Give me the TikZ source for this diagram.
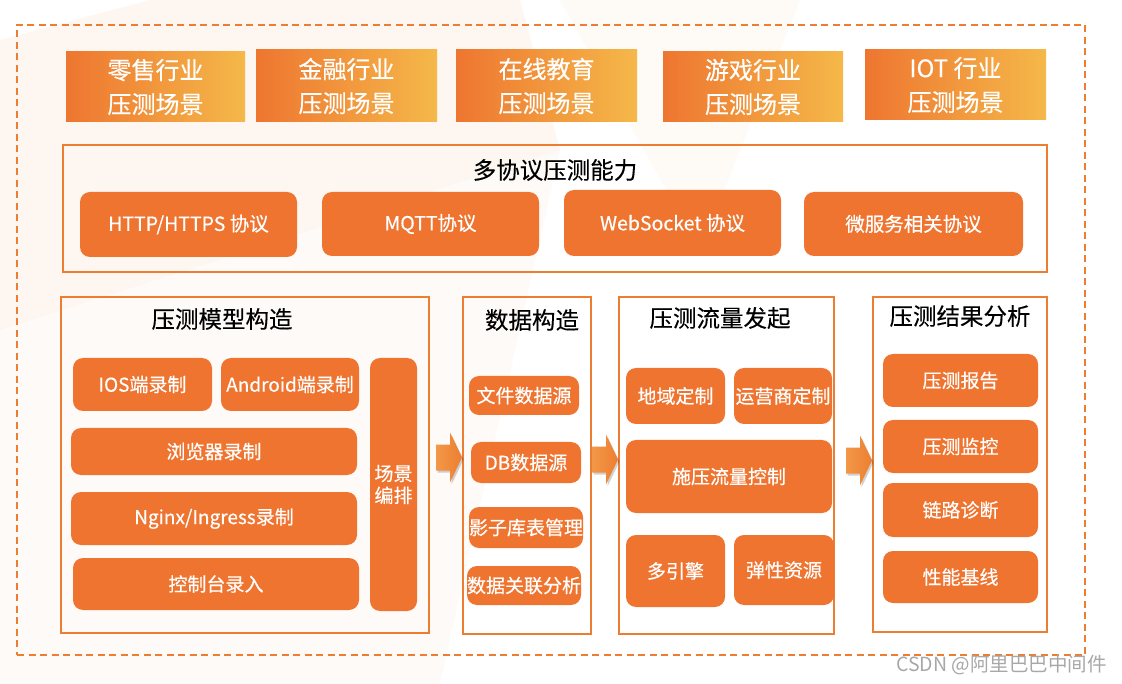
\documentclass[tikz,border=0pt]{standalone}
\usepackage{fontspec}
\setmainfont{Noto Sans CJK SC}
\newfontfamily\boxfont{Noto Sans CJK SC}[FakeBold=0.45]
\newfontfamily\ttlfont{Noto Sans CJK SC}[FakeBold=0.2]
\usetikzlibrary{calc}
\definecolor{orfill}{HTML}{EE7430}
\definecolor{orline}{HTML}{ED7D31}
\definecolor{gradL}{HTML}{EE7630}
\definecolor{gradR}{HTML}{F5B849}
\definecolor{arrL}{HTML}{F29848}
\definecolor{arrR}{HTML}{EE7E30}
\definecolor{peach}{HTML}{FDEFE4}
\definecolor{wmark}{HTML}{A8A8A8}
\newcommand\BX[7]{\node[#1, minimum width={#5-#3}, minimum height={#6-#4}] (#2) at ({(#3+#5)/2},{(#4+#6)/2}) {#7};}
\newcommand\BLOCKARROW[1]{%
  \fill[black, opacity=0.18, shift={(#1)}, xshift=1.5pt, yshift=-2pt] (0,0) -- (-12,-25) -- (-12,-13) -- (-26,-13) -- (-26,13) -- (-12,13) -- (-12,25) -- cycle;
  \shade[left color=arrL, right color=arrR, shift={(#1)}] (0,0) -- (-12,-25) -- (-12,-13) -- (-26,-13) -- (-26,13) -- (-12,13) -- (-12,25) -- cycle;}
\tikzset{
  obox/.style={fill=orfill, rounded corners=10pt, text=white, font=\boxfont\fontsize{19}{23}\selectfont, inner sep=0pt, outer sep=0pt, align=center},
  pbox/.style={obox, font=\boxfont\fontsize{19.5}{23}\selectfont},
  topbox/.style={left color=gradL, right color=gradR, text=white, font=\boxfont\fontsize{24}{34}\selectfont, align=center, inner sep=0pt, outer sep=0pt},
  panel/.style={draw=orline, line width=1.6pt, inner sep=0pt, outer sep=0pt},
  ttl/.style={text=black, font=\ttlfont\fontsize{23.5}{28}\selectfont, inner sep=0pt},
  outer/.style={draw=orline, line width=1.5pt, dash pattern=on 7pt off 4.5pt}
}
\begin{document}
\begin{tikzpicture}[x=1pt,y=-1pt]
\useasboundingbox (0,0) rectangle (1122,684);
\fill[white] (0,0) rectangle (1122,684);
% faint background shapes
\fill[peach, opacity=0.5] (0,40) -- (150,0) -- (520,0) -- (560,150) -- (0,330) -- cycle;
\fill[peach, opacity=0.3] (560,0) -- (800,0) -- (700,250) -- cycle;
\fill[peach, opacity=0.25] (0,330) -- (560,150) -- (440,684) -- (0,684) -- cycle;

% outer dashed frame
\node[outer, minimum width=1068, minimum height=630, inner sep=0pt] (frame) at (551,340) {};

% top row scenario boxes
\BX{topbox}{s1}{66}{52}{245}{122}{零售行业\\压测场景}
\BX{topbox}{s2}{256}{50}{437}{122}{金融行业\\压测场景}
\BX{topbox}{s3}{456}{50}{637}{122}{在线教育\\压测场景}
\BX{topbox}{s4}{663}{52}{843}{122}{游戏行业\\压测场景}
\BX{topbox}{s5}{865}{50}{1046}{120}{IOT 行业\\压测场景}

% protocol panel
\BX{panel}{proto}{63}{145}{1047}{272}{}
\node[ttl] (protottl) at (555,170) {多协议压测能力};
\BX{pbox}{p1}{80}{192}{297}{257}{HTTP/HTTPS 协议}
\BX{pbox}{p2}{322}{192}{539}{256}{MQTT协议}
\BX{pbox}{p3}{564}{190}{781}{256}{WebSocket 协议}
\BX{pbox}{p4}{804}{192}{1023}{256}{微服务相关协议}

% panel 1: model
\BX{panel}{model}{61}{297}{429}{633}{}
\node[ttl] (modelttl) at (222,319) {压测模型构造};
\BX{obox}{m1}{73}{358}{212}{411}{IOS端录制}
\BX{obox}{m2}{221}{358}{359}{411}{Android端录制}
\BX{obox}{m3}{71}{428}{357}{475}{浏览器录制}
\BX{obox}{m4}{71}{492}{357}{545}{Nginx/Ingress录制}
\BX{obox}{m5}{73}{558}{359}{610}{控制台录入}
\BX{obox, font=\boxfont\fontsize{19}{22}\selectfont}{m6}{370}{358}{417}{611}{场景\\编排}

% panel 2: data
\BX{panel}{data}{463}{297}{591}{634}{}
\node[ttl] (datattl) at (532,320) {数据构造};
\BX{obox}{d1}{469}{376}{579}{415}{文件数据源}
\BX{obox}{d2}{471}{442}{581}{483}{DB数据源}
\BX{obox}{d3}{471}{507}{581}{548}{影子库表管理}
\BX{obox}{d4}{469}{566}{579}{605}{数据关联分析}

% panel 3: traffic
\BX{panel}{flow}{619}{297}{834}{634}{}
\node[ttl] (flowttl) at (720,318) {压测流量发起};
\BX{obox}{f1}{626}{368}{725}{424}{地域定制}
\BX{obox}{f2}{734}{368}{832}{424}{运营商定制}
\BX{obox}{f3}{626}{440}{832}{513}{施压流量控制}
\BX{obox}{f4}{626}{535}{725}{607}{多引擎}
\BX{obox}{f5}{734}{535}{834}{605}{弹性资源}

% panel 4: results
\BX{panel}{res}{873}{297}{1047}{632}{}
\node[ttl] (resttl) at (960,316) {压测结果分析};
\BX{obox}{r1}{883}{354}{1038}{407}{压测报告}
\BX{obox}{r2}{883}{420}{1038}{473}{压测监控}
\BX{obox}{r3}{883}{483}{1038}{537}{链路诊断}
\BX{obox}{r4}{883}{551}{1038}{603}{性能基线}

% block arrows between panels (tips at the next panel)
\coordinate (t1) at ($(data.west)+(-1,-8)$);
\coordinate (t2) at ($(flow.west)+(-1,-6)$);
\coordinate (t3) at ($(res.west)+(-1,-4)$);
\BLOCKARROW{t1}
\BLOCKARROW{t2}
\BLOCKARROW{t3}

% watermark
\node[text=wmark, font=\fontsize{19.5}{22}\selectfont, inner sep=0pt, anchor=west] (wm) at (896,665) {CSDN @阿里巴巴中间件};
\end{tikzpicture}
\end{document}
